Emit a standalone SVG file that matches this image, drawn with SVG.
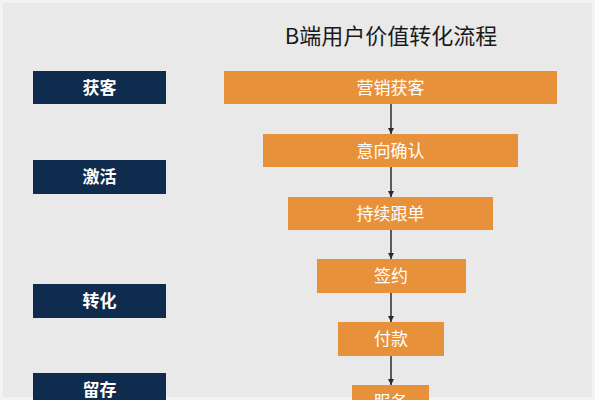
<svg xmlns="http://www.w3.org/2000/svg" width="595" height="400" viewBox="0 0 595 400">
  <defs>
    <style>
      .stage { fill: #0f2b4d; }
      .step { fill: #e8913b; }
      .lbl { font-family: "Noto Sans CJK SC", "Noto Sans", sans-serif; font-size: 17px; fill: #ffffff; text-anchor: middle; }
      .stage-lbl { font-weight: bold; }
      .title { font-family: "Noto Sans CJK SC", "Noto Sans", sans-serif; font-size: 22px; fill: #1a1a1a; text-anchor: middle; }
      .conn { stroke: #2b2b2b; stroke-width: 1.5; fill: none; marker-end: url(#arrow); }
    </style>
    <marker id="arrow" viewBox="0 0 10 10" refX="10" refY="5" markerWidth="6" markerHeight="6" markerUnits="userSpaceOnUse" orient="auto">
      <path d="M0,0 L10,5 L0,10 z" fill="#2b2b2b"/>
    </marker>
  </defs>
  <rect x="0" y="0" width="595" height="400" fill="#e9e9e9"/>
  <rect x="1.5" y="1.5" width="592" height="397" fill="none" stroke="#f3f3f3" stroke-width="3"/>
  <text class="title" x="391" y="44">B端用户价值转化流程</text>

  <g id="stage-huoke"><rect class="stage" x="33" y="71" width="133" height="33"/><text class="lbl stage-lbl" x="99.5" y="93.5">获客</text></g>
  <g id="stage-jihuo"><rect class="stage" x="33" y="160" width="133" height="34"/><text class="lbl stage-lbl" x="99.5" y="183">激活</text></g>
  <g id="stage-zhuanhua"><rect class="stage" x="33" y="284" width="133" height="34"/><text class="lbl stage-lbl" x="99.5" y="307">转化</text></g>
  <g id="stage-liucun"><rect class="stage" x="33" y="373" width="133" height="34"/><text class="lbl stage-lbl" x="99.5" y="396">留存</text></g>

  <g id="step-1"><rect class="step" x="224" y="71" width="333" height="33"/><text class="lbl" x="390.5" y="93.5">营销获客</text></g>
  <g id="step-2"><rect class="step" x="263" y="134" width="255" height="33"/><text class="lbl" x="390.5" y="156.5">意向确认</text></g>
  <g id="step-3"><rect class="step" x="288" y="197" width="205" height="33"/><text class="lbl" x="390.5" y="219.5">持续跟单</text></g>
  <g id="step-4"><rect class="step" x="317" y="259" width="149" height="34"/><text class="lbl" x="391" y="282">签约</text></g>
  <g id="step-5"><rect class="step" x="338" y="322" width="106" height="34"/><text class="lbl" x="391" y="345">付款</text></g>
  <g id="step-6"><rect class="step" x="352" y="385" width="77" height="34"/><text class="lbl" x="390.5" y="408">服务</text></g>

  <g id="connectors">
    <line class="conn" x1="391" y1="104" x2="391" y2="134"/>
    <line class="conn" x1="391" y1="167" x2="391" y2="197"/>
    <line class="conn" x1="391" y1="230" x2="391" y2="259"/>
    <line class="conn" x1="391" y1="293" x2="391" y2="322"/>
    <line class="conn" x1="391" y1="356" x2="391" y2="385"/>
  </g>
</svg>
